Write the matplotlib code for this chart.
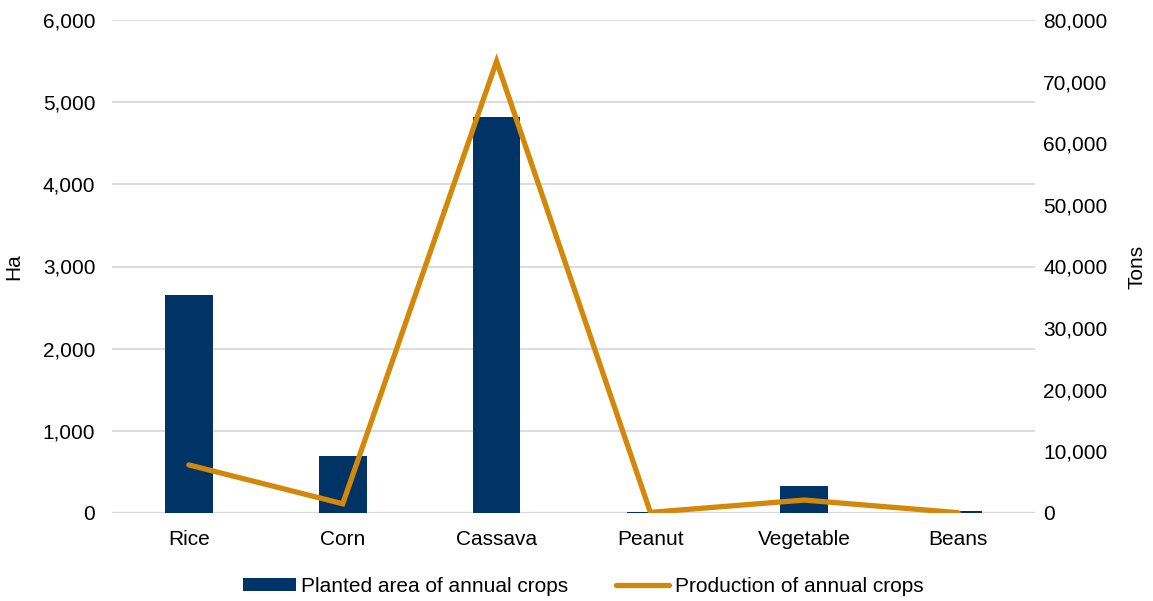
import matplotlib
matplotlib.use("Agg")
import matplotlib.pyplot as plt
from matplotlib.ticker import FuncFormatter, MultipleLocator
from matplotlib.patches import Patch
from matplotlib.lines import Line2D
import numpy as np

plt.rcParams['font.family'] = ['Liberation Sans', 'DejaVu Sans']

crops = ["Rice", "Corn", "Cassava", "Peanut", "Vegetable", "Beans"]
planted_area_ha = [2650, 690, 4820, 15, 330, 20]
production_tons = [7800, 1500, 73300, 100, 2100, 50]

bar_color = "#003366"
line_color = "#D4880A"
grid_color = "#D9D9D9"
fs = 15

fig = plt.figure(figsize=(11.53, 6.01), dpi=100)
ax = fig.add_axes([112 / 1153, 1 - 513 / 601, (1035 - 112) / 1153, (513 - 20) / 601])
ax2 = ax.twinx()

x = np.arange(len(crops))
ax.bar(x, planted_area_ha, width=0.31, color=bar_color, zorder=2)
ax2.plot(x, production_tons, color=line_color, lw=3.8, solid_capstyle="round",
         solid_joinstyle="miter", zorder=3)

ax.set_xlim(-0.5, len(crops) - 0.5)
ax.set_ylim(0, 6000)
ax2.set_ylim(0, 80000)
ax.yaxis.set_major_locator(MultipleLocator(1000))
ax2.yaxis.set_major_locator(MultipleLocator(10000))
fmt = FuncFormatter(lambda v, p: f"{int(v):,}")
ax.yaxis.set_major_formatter(fmt)
ax2.yaxis.set_major_formatter(fmt)

ax.set_xticks(x)
ax.set_xticklabels(crops)
ax.grid(axis="y", color=grid_color, lw=1.3, zorder=0)
ax.set_axisbelow(True)

for a in (ax, ax2):
    for s in a.spines.values():
        s.set_visible(False)
    a.tick_params(length=0, labelsize=fs, colors="#000000")
ax.tick_params(axis="y", pad=12)
ax.tick_params(axis="x", pad=12)
ax2.tick_params(axis="y", pad=6)
ax.axhline(0, color=grid_color, lw=1.6, zorder=1)

ax.set_ylabel("Ha", fontsize=fs, labelpad=14)
ax2.set_ylabel("Tons", fontsize=fs, labelpad=14)

handles = [Patch(facecolor=bar_color, edgecolor="none"),
           Line2D([0], [0], color=line_color, lw=3.8, solid_capstyle="round")]
fig.legend(handles, ["Planted area of annual crops", "Production of annual crops"],
           loc="center", bbox_to_anchor=(583 / 1153, 1 - 586 / 601), ncol=2,
           frameon=False, fontsize=fs, handlelength=2.55, handleheight=0.6,
           handletextpad=0.25, columnspacing=2.3)

fig.savefig("out.png", dpi=100)
